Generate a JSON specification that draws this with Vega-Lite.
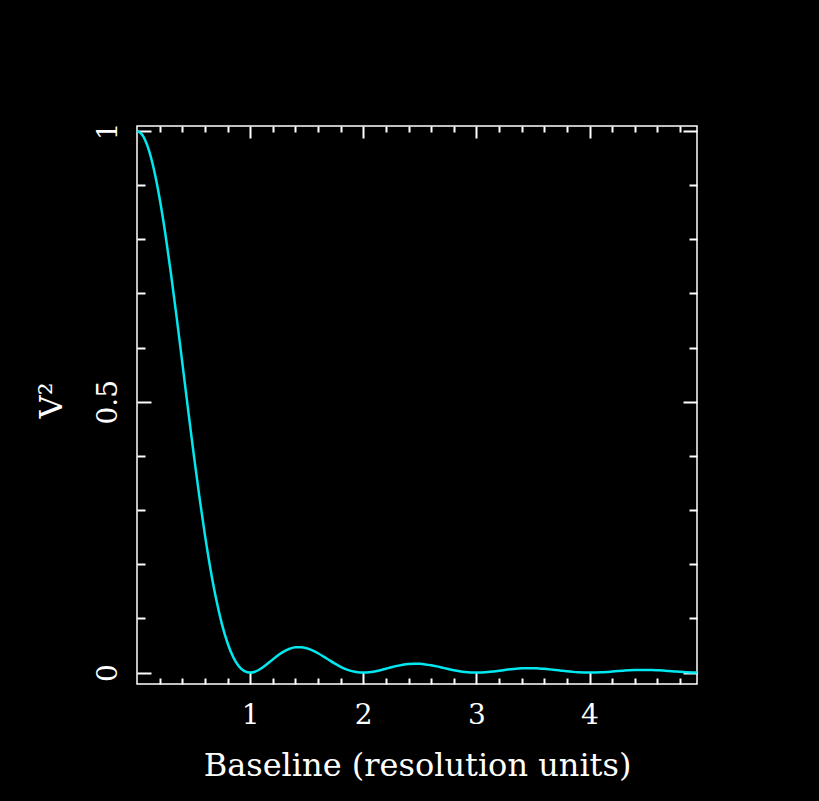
{
  "$schema": "https://vega.github.io/schema/vega-lite/v6.json",
  "autosize": "none",
  "width": 560,
  "height": 558,
  "padding": {"left": 137, "top": 126, "right": 122, "bottom": 117},
  "background": "black",
  "config": {
    "view": {"stroke": "white", "strokeWidth": 1.5, "fill": "black"},
    "axis": {
      "domain": false,
      "grid": false,
      "tickColor": "white",
      "tickWidth": 2,
      "labelColor": "white",
      "titleColor": "white",
      "labelFont": "DejaVu Serif",
      "titleFont": "DejaVu Serif",
      "labelFontSize": 28,
      "titleFontSize": 32,
      "labelFontWeight": "normal",
      "titleFontWeight": "normal"
    }
  },
  "data": {
    "values": [
      {"b": 0.00, "v2": 1.0000}, {"b": 0.05, "v2": 0.9918}, {"b": 0.10, "v2": 0.9675}, {"b": 0.15, "v2": 0.9281},
      {"b": 0.20, "v2": 0.8751}, {"b": 0.25, "v2": 0.8106}, {"b": 0.30, "v2": 0.7368}, {"b": 0.35, "v2": 0.6566},
      {"b": 0.40, "v2": 0.5728}, {"b": 0.45, "v2": 0.4881}, {"b": 0.50, "v2": 0.4053}, {"b": 0.55, "v2": 0.3267},
      {"b": 0.60, "v2": 0.2546}, {"b": 0.65, "v2": 0.1904}, {"b": 0.70, "v2": 0.1353}, {"b": 0.75, "v2": 0.0901},
      {"b": 0.80, "v2": 0.0547}, {"b": 0.85, "v2": 0.0289}, {"b": 0.90, "v2": 0.0119}, {"b": 0.95, "v2": 0.0027},
      {"b": 1.00, "v2": 0.0000}, {"b": 1.05, "v2": 0.0022}, {"b": 1.10, "v2": 0.0080}, {"b": 1.15, "v2": 0.0158},
      {"b": 1.20, "v2": 0.0243}, {"b": 1.25, "v2": 0.0324}, {"b": 1.30, "v2": 0.0392}, {"b": 1.35, "v2": 0.0441},
      {"b": 1.40, "v2": 0.0468}, {"b": 1.45, "v2": 0.0470}, {"b": 1.50, "v2": 0.0450}, {"b": 1.55, "v2": 0.0411},
      {"b": 1.60, "v2": 0.0358}, {"b": 1.65, "v2": 0.0295}, {"b": 1.70, "v2": 0.0229}, {"b": 1.75, "v2": 0.0165},
      {"b": 1.80, "v2": 0.0108}, {"b": 1.85, "v2": 0.0061}, {"b": 1.90, "v2": 0.0027}, {"b": 1.95, "v2": 0.0007},
      {"b": 2.00, "v2": 0.0000}, {"b": 2.05, "v2": 0.0006}, {"b": 2.10, "v2": 0.0022}, {"b": 2.15, "v2": 0.0045},
      {"b": 2.20, "v2": 0.0072}, {"b": 2.25, "v2": 0.0100}, {"b": 2.30, "v2": 0.0125}, {"b": 2.35, "v2": 0.0146},
      {"b": 2.40, "v2": 0.0159}, {"b": 2.45, "v2": 0.0165}, {"b": 2.50, "v2": 0.0162}, {"b": 2.55, "v2": 0.0152},
      {"b": 2.60, "v2": 0.0136}, {"b": 2.65, "v2": 0.0115}, {"b": 2.70, "v2": 0.0091}, {"b": 2.75, "v2": 0.0067},
      {"b": 2.80, "v2": 0.0045}, {"b": 2.85, "v2": 0.0026}, {"b": 2.90, "v2": 0.0012}, {"b": 2.95, "v2": 0.0003},
      {"b": 3.00, "v2": 0.0000}, {"b": 3.05, "v2": 0.0003}, {"b": 3.10, "v2": 0.0010}, {"b": 3.15, "v2": 0.0021},
      {"b": 3.20, "v2": 0.0034}, {"b": 3.25, "v2": 0.0048}, {"b": 3.30, "v2": 0.0061}, {"b": 3.35, "v2": 0.0072},
      {"b": 3.40, "v2": 0.0079}, {"b": 3.45, "v2": 0.0083}, {"b": 3.50, "v2": 0.0083}, {"b": 3.55, "v2": 0.0078},
      {"b": 3.60, "v2": 0.0071}, {"b": 3.65, "v2": 0.0060}, {"b": 3.70, "v2": 0.0048}, {"b": 3.75, "v2": 0.0036},
      {"b": 3.80, "v2": 0.0024}, {"b": 3.85, "v2": 0.0014}, {"b": 3.90, "v2": 0.0006}, {"b": 3.95, "v2": 0.0002},
      {"b": 4.00, "v2": 0.0000}, {"b": 4.05, "v2": 0.0002}, {"b": 4.10, "v2": 0.0006}, {"b": 4.15, "v2": 0.0012},
      {"b": 4.20, "v2": 0.0020}, {"b": 4.25, "v2": 0.0028}, {"b": 4.30, "v2": 0.0036}, {"b": 4.35, "v2": 0.0043},
      {"b": 4.40, "v2": 0.0047}, {"b": 4.45, "v2": 0.0050}, {"b": 4.50, "v2": 0.0050}, {"b": 4.55, "v2": 0.0048},
      {"b": 4.60, "v2": 0.0043}, {"b": 4.65, "v2": 0.0037}, {"b": 4.70, "v2": 0.0030}, {"b": 4.75, "v2": 0.0022},
      {"b": 4.80, "v2": 0.0015}, {"b": 4.85, "v2": 0.0009}, {"b": 4.90, "v2": 0.0004}, {"b": 4.95, "v2": 0.0001}
    ]
  },
  "resolve": {"axis": {"x": "independent", "y": "independent"}},
  "layer": [
    {
      "mark": {"type": "line", "color": "#00e8f0", "strokeWidth": 2.5, "interpolate": "monotone"},
      "encoding": {
        "x": {
          "field": "b", "type": "quantitative",
          "scale": {"domain": [0, 4.95], "nice": false, "zero": false},
          "axis": {
            "orient": "bottom",
            "title": "Baseline (resolution units)",
            "values": [0.2, 0.4, 0.6, 0.8, 1, 1.2, 1.4, 1.6, 1.8, 2, 2.2, 2.4, 2.6, 2.8, 3, 3.2, 3.4, 3.6, 3.8, 4, 4.2, 4.4, 4.6, 4.8],
            "labelExpr": "abs(datum.value - round(datum.value)) < 0.001 ? format(datum.value, 'd') : ''",
            "tickSize": {"condition": {"test": "abs(datum.value - round(datum.value)) < 0.001", "value": -12}, "value": -6}, 
            "labelPadding": 29,
            "labelFlush": false,
            "labelOverlap": false,
            "titleX": 280,
            "titleY": 91,
            "titleBaseline": "alphabetic",
            "titleAlign": "center"
          }
        },
        "y": {
          "field": "v2", "type": "quantitative",
          "scale": {"domain": [-0.021, 1.009], "nice": false, "zero": false},
          "axis": {
            "orient": "left",
            "title": "V²",
            "values": [0, 0.1, 0.2, 0.3, 0.4, 0.5, 0.6, 0.7, 0.8, 0.9, 1],
            "labelExpr": "abs(datum.value*2 - round(datum.value*2)) < 0.001 ? format(datum.value, '') : ''",
            "tickSize": {"condition": {"test": "abs(datum.value*2 - round(datum.value*2)) < 0.001", "value": -14}, "value": -8},
            "labelAngle": -90,
            "labelAlign": "center",
            "labelBaseline": "bottom",
            "labelPadding": 29,
            "labelFlush": false,
            "labelOverlap": false,
            "titleAngle": -90,
            "titleX": -76,
            "titleY": 274,
            "titleAlign": "center",
            "titleBaseline": "alphabetic"
          }
        }
      }
    },
    {
      "mark": {"type": "point", "opacity": 0},
      "encoding": {
        "x": {
          "field": "b", "type": "quantitative",
          "axis": {
            "orient": "top",
            "title": null,
            "labels": false,
            "values": [0.2, 0.4, 0.6, 0.8, 1, 1.2, 1.4, 1.6, 1.8, 2, 2.2, 2.4, 2.6, 2.8, 3, 3.2, 3.4, 3.6, 3.8, 4, 4.2, 4.4, 4.6, 4.8],
            "tickSize": {"condition": {"test": "abs(datum.value - round(datum.value)) < 0.001", "value": -12}, "value": -6}
          }
        },
        "y": {
          "field": "v2", "type": "quantitative",
          "axis": {
            "orient": "right",
            "title": null,
            "labels": false,
            "values": [0, 0.1, 0.2, 0.3, 0.4, 0.5, 0.6, 0.7, 0.8, 0.9, 1],
            "tickSize": {"condition": {"test": "abs(datum.value*2 - round(datum.value*2)) < 0.001", "value": -14}, "value": -8}
          }
        }
      }
    }
  ]
}
